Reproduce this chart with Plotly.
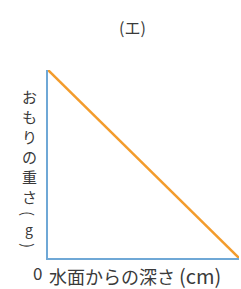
import plotly.graph_objects as go

# Data
depth = [0, 10]          # 水面からの深さ (cm)
weight = [10, 0]         # おもりの重さ (g)
title_text = "(エ)"
y_label_chars = ["お", "も", "り", "の", "重", "さ", "(", "g", ")"]
x_label_main = "水面からの深さ"
x_label_unit = "(cm)"
origin_label = "0"

W, H = 241, 289
L, R, T, B = 48, 2, 70, 31
pw, ph = W - L - R, H - T - B

def px(x):
    return (x - L) / pw

def py(y):
    return (H - B - y) / ph

FONT = "Noto Sans CJK JP"
TXT = "#3a3a3a"

fig = go.Figure()
fig.add_trace(go.Scatter(x=depth, y=weight, mode="lines",
                         line=dict(color="#f39c2c", width=2.5),
                         hoverinfo="skip", showlegend=False))

ann = []
ann.append(dict(text=title_text, x=px(132), y=py(27), xref="paper", yref="paper",
                showarrow=False, font=dict(family=FONT, size=16, color=TXT),
                xanchor="center", yanchor="middle"))
ys = [96, 116, 136, 156, 176, 196, 213, 229, 245]
for ch, yy in zip(y_label_chars, ys):
    rot = 90 if ch in "()" else 0
    size = 14 if ch == "g" else 15
    ann.append(dict(text=ch, x=px(29), y=py(yy), xref="paper", yref="paper",
                    showarrow=False, textangle=rot, borderpad=0,
                    font=dict(family=FONT, size=size, color=TXT),
                    xanchor="center", yanchor="middle"))
ann.append(dict(text=origin_label, x=px(37), y=py(272), xref="paper", yref="paper",
                showarrow=False, font=dict(family=FONT, size=17, color=TXT),
                xanchor="center", yanchor="middle"))
ann.append(dict(text=x_label_main, x=px(48), y=py(276), xref="paper", yref="paper",
                showarrow=False, font=dict(family=FONT, size=18, color=TXT),
                xanchor="left", yanchor="middle", borderpad=0))
ann.append(dict(text=x_label_unit, x=px(178), y=py(275), xref="paper", yref="paper",
                showarrow=False, font=dict(family=FONT, size=20, color=TXT),
                xanchor="left", yanchor="middle", borderpad=0))

fig.update_layout(
    width=W, height=H,
    margin=dict(l=L, r=R, t=T, b=B),
    paper_bgcolor="white", plot_bgcolor="white",
    annotations=ann,
    xaxis=dict(range=[0, 10], showgrid=False, zeroline=False, showticklabels=False,
               ticks="", showline=True, linecolor="#6fa8d6", linewidth=1.5),
    yaxis=dict(range=[0, 10], showgrid=False, zeroline=False, showticklabels=False,
               ticks="", showline=True, linecolor="#6fa8d6", linewidth=1.5),
)
fig.write_html("out.html", config={"displayModeBar": False},
               post_script="document.body.style.margin='0';document.body.style.padding='0';")
